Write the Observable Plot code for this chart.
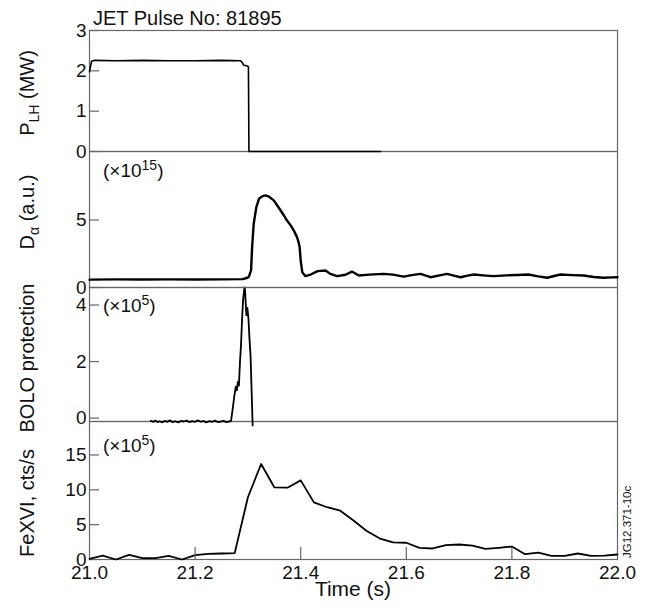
<!DOCTYPE html>
<html><head><meta charset="utf-8">
<script src="https://cdn.jsdelivr.net/npm/d3@7"></script>
<script src="https://cdn.jsdelivr.net/npm/@observablehq/plot@0.6"></script>
<style>
body{margin:0;background:#fff;}
#chart{position:relative;width:650px;height:610px;font-family:"Liberation Sans",Arial,sans-serif;}
#chart svg{position:absolute;left:0;overflow:visible;}
</style></head><body><div id="chart"></div>
<script>
const title = "JET Pulse No: 81895";
const xTicks = [21.0, 21.2, 21.4, 21.6, 21.8, 22.0];
const xInnerTicks = [21.2, 21.4, 21.6, 21.8];

// P_LH (MW)
const plhTime  = [21.000, 21.004, 21.010, 21.050, 21.100, 21.150, 21.200, 21.250, 21.286, 21.289, 21.292, 21.297, 21.301, 21.302, 21.551];
const plhValue = [1.98,   2.24,   2.26,   2.25,   2.26,   2.25,   2.25,   2.26,   2.25,   2.21,   2.14,   2.13,   2.10,   0.00,   0.00];
const plhTicks = [0, 1, 2, 3];

// D_alpha (a.u.) x1e15
const daTime  = [21.000, 21.050, 21.100, 21.150, 21.200, 21.250, 21.290, 21.299, 21.302, 21.306, 21.308, 21.311, 21.316, 21.321, 21.327, 21.333, 21.340, 21.349, 21.356, 21.362, 21.368, 21.374, 21.381, 21.387, 21.393, 21.396, 21.398, 21.400, 21.403, 21.409, 21.419, 21.432, 21.447, 21.456, 21.469, 21.485, 21.497, 21.510, 21.530, 21.557, 21.575, 21.595, 21.610, 21.627, 21.646, 21.663, 21.677, 21.690, 21.703, 21.716, 21.728, 21.745, 21.765, 21.790, 21.810, 21.831, 21.850, 21.867, 21.880, 21.892, 21.915, 21.936, 21.955, 21.973, 21.990, 22.000];
const daValue = [0.58,   0.60,   0.59,   0.60,   0.59,   0.60,   0.62,   0.72,   0.80,   1.26,   2.99,   4.72,   5.95,   6.57,   6.75,   6.82,   6.72,   6.45,   6.05,   5.70,   5.35,   4.96,   4.60,   4.22,   3.73,   3.35,   2.99,   2.00,   1.13,   0.84,   0.96,   1.21,   1.26,   1.01,   0.84,   0.94,   1.18,   0.89,   0.95,   1.01,   0.95,   0.81,   0.92,   1.01,   0.76,   0.90,   1.01,   0.88,   0.76,   0.88,   0.96,   0.90,   0.84,   0.90,   0.93,   0.96,   0.82,   0.72,   0.85,   0.96,   0.92,   0.89,   0.78,   0.72,   0.75,   0.76];
const daTicks = [0, 5];

// BOLO protection x1e5
const boloTime  = [21.116, 21.121, 21.125, 21.129, 21.133, 21.138, 21.142, 21.148, 21.152, 21.157, 21.163, 21.168, 21.173, 21.178, 21.184, 21.189, 21.194, 21.200, 21.205, 21.211, 21.216, 21.221, 21.227, 21.232, 21.238, 21.243, 21.249, 21.254, 21.259, 21.264, 21.268, 21.271, 21.274, 21.277, 21.279, 21.281, 21.283, 21.285, 21.287, 21.289, 21.291, 21.2925, 21.2935, 21.2945, 21.2955, 21.297, 21.299, 21.301, 21.303, 21.305, 21.309];
const boloValue = [-0.10, -0.13, -0.09, -0.14, -0.11, -0.15, -0.10, -0.13, -0.08, -0.14, -0.11, -0.15, -0.10, -0.12, -0.09, -0.14, -0.11, -0.13, -0.08, -0.13, -0.10, -0.15, -0.11, -0.13, -0.09, -0.14, -0.12, -0.10, -0.14, -0.12, -0.11, 0.30, 0.74, 1.10, 0.98, 1.28, 1.15, 1.99, 2.60, 3.52, 4.20, 4.47, 4.62, 4.55, 4.20, 3.64, 3.90, 3.53, 2.81, 2.22, -0.26];
const boloTicks = [0, 2, 4];

// FeXVI, cts/s x1e5
const feTime  = [21.000, 21.025, 21.050, 21.075, 21.100, 21.125, 21.150, 21.175, 21.200, 21.225, 21.250, 21.275, 21.300, 21.325, 21.350, 21.375, 21.400, 21.425, 21.450, 21.475, 21.500, 21.525, 21.550, 21.575, 21.600, 21.625, 21.650, 21.675, 21.700, 21.725, 21.750, 21.775, 21.800, 21.825, 21.850, 21.875, 21.900, 21.925, 21.950, 21.975, 22.000];
const feValue = [0.10,   0.57,   0.00,   0.67,   0.19,   0.19,   0.53,   0.00,   0.62,   0.81,   0.86,   0.91,   8.93,   13.70,  10.36,  10.30,  11.35,  8.20,   7.50,   7.00,   5.60,   4.10,   3.00,   2.45,   2.40,   1.68,   1.58,   2.05,   2.15,   2.00,   1.53,   1.68,   1.86,   0.76,   1.00,   0.53,   0.53,   0.86,   0.53,   0.57,   0.72];
const feTicks = [0, 5, 10, 15];

const zipTV = (T, V) => T.map((t, i) => ({t, v: V[i]}));
const chart = document.getElementById("chart");
const FRAME = "#666";
const W = 650, ML = 89, MR = 33;
const frameW = W - ML - MR;

function panel({top, height, z, marginTop = 0, marginBottom = 0, domain, ticks, data, strokeWidth, bottom = false}) {
  const marks = [
    Plot.frame({stroke: FRAME, strokeWidth: 1.2}),
    Plot.gridY(ticks, {stroke: FRAME, strokeOpacity: 1, strokeWidth: 1.2, insetRight: frameW - 10}),
    Plot.axisY(ticks, {tickSize: 0, tickPadding: 3, label: null, fontSize: 19, fill: "#111"}),
    Plot.line(data, {x: "t", y: "v", stroke: "#000", strokeWidth, strokeLinejoin: "round"})
  ];
  const frameH = height - marginTop - marginBottom;
  if (bottom) {
    marks.push(Plot.gridX(xInnerTicks, {stroke: FRAME, strokeOpacity: 1, strokeWidth: 1.2, insetTop: frameH - 12}));
    marks.push(Plot.axisX(xTicks, {tickSize: 0, tickPadding: 6, label: null, fontSize: 19, fill: "#111", tickFormat: d3.format(".1f")}));
  }
  const svg = Plot.plot({
    width: W, height, marginLeft: ML, marginRight: MR, marginTop, marginBottom,
    style: {fontFamily: '"Liberation Sans", Arial, sans-serif', overflow: "visible", background: "transparent"},
    x: {domain: [21, 22], axis: bottom ? undefined : null},
    y: {domain},
    marks
  });
  svg.style.top = top + "px";
  svg.style.zIndex = z;
  chart.appendChild(svg);
  return d3.select(svg);
}

function yLabel(sel, cy, parts) {
  const t = sel.append("text")
    .attr("transform", `translate(34,${cy}) rotate(-90)`)
    .attr("text-anchor", "middle")
    .attr("fill", "#111")
    .style("font-size", "20px");
  parts.forEach(([txt, kind]) => {
    const s = t.append("tspan").text(txt);
    if (kind === "sub") s.attr("dy", 5).style("font-size", "14px");
    if (kind === "back") s.attr("dy", -5);
  });
}
function scaleNote(sel, y, exp) {
  const t = sel.append("text").attr("x", 103).attr("y", y).attr("text-anchor", "start").attr("fill", "#111").style("font-size", "19px");
  t.append("tspan").text("(\u00d710");
  t.append("tspan").text(exp).attr("dy", -7).style("font-size", "14px");
  t.append("tspan").text(")").attr("dy", 7);
}

const p1 = panel({top: 0, height: 151, z: 4, marginTop: 30, domain: [0, 3], ticks: plhTicks, data: zipTV(plhTime, plhValue), strokeWidth: 1.6});
p1.append("text").attr("x", 93).attr("y", 25).attr("text-anchor", "start").attr("fill", "#111").style("font-size", "20px").text(title);
yLabel(p1, 93, [["P", null], ["LH", "sub"], [" (MW)", "back"]]);

const p2 = panel({top: 151, height: 136, z: 3, domain: [0, 10.07], ticks: daTicks, data: zipTV(daTime, daValue), strokeWidth: 2.4});
scaleNote(p2, 26, "15");
yLabel(p2, 212 - 151, [["D", null], ["\u03b1", "sub"], [" (a.u.)", "back"]]);

const p3 = panel({top: 287, height: 134, z: 2, domain: [-0.12, 4.62], ticks: boloTicks, data: zipTV(boloTime, boloValue), strokeWidth: 1.8});
scaleNote(p3, 25, "5");
yLabel(p3, 358 - 287, [["BOLO protection", null]]);

const p4 = panel({top: 421, height: 189, z: 1, marginBottom: 51, domain: [0, 19.8], ticks: feTicks, data: zipTV(feTime, feValue), strokeWidth: 1.8, bottom: true});
scaleNote(p4, 31, "5");
yLabel(p4, 503 - 421, [["FeXVI, cts/s", null]]);
p4.append("text").attr("x", 353).attr("y", 175).attr("text-anchor", "middle").attr("fill", "#111").style("font-size", "21px").text("Time (s)");
p4.append("text").attr("transform", "translate(631,137) rotate(-90)").attr("text-anchor", "start").attr("fill", "#111").style("font-size", "11.5px").text("JG12.371-10c");
</script></body></html>
